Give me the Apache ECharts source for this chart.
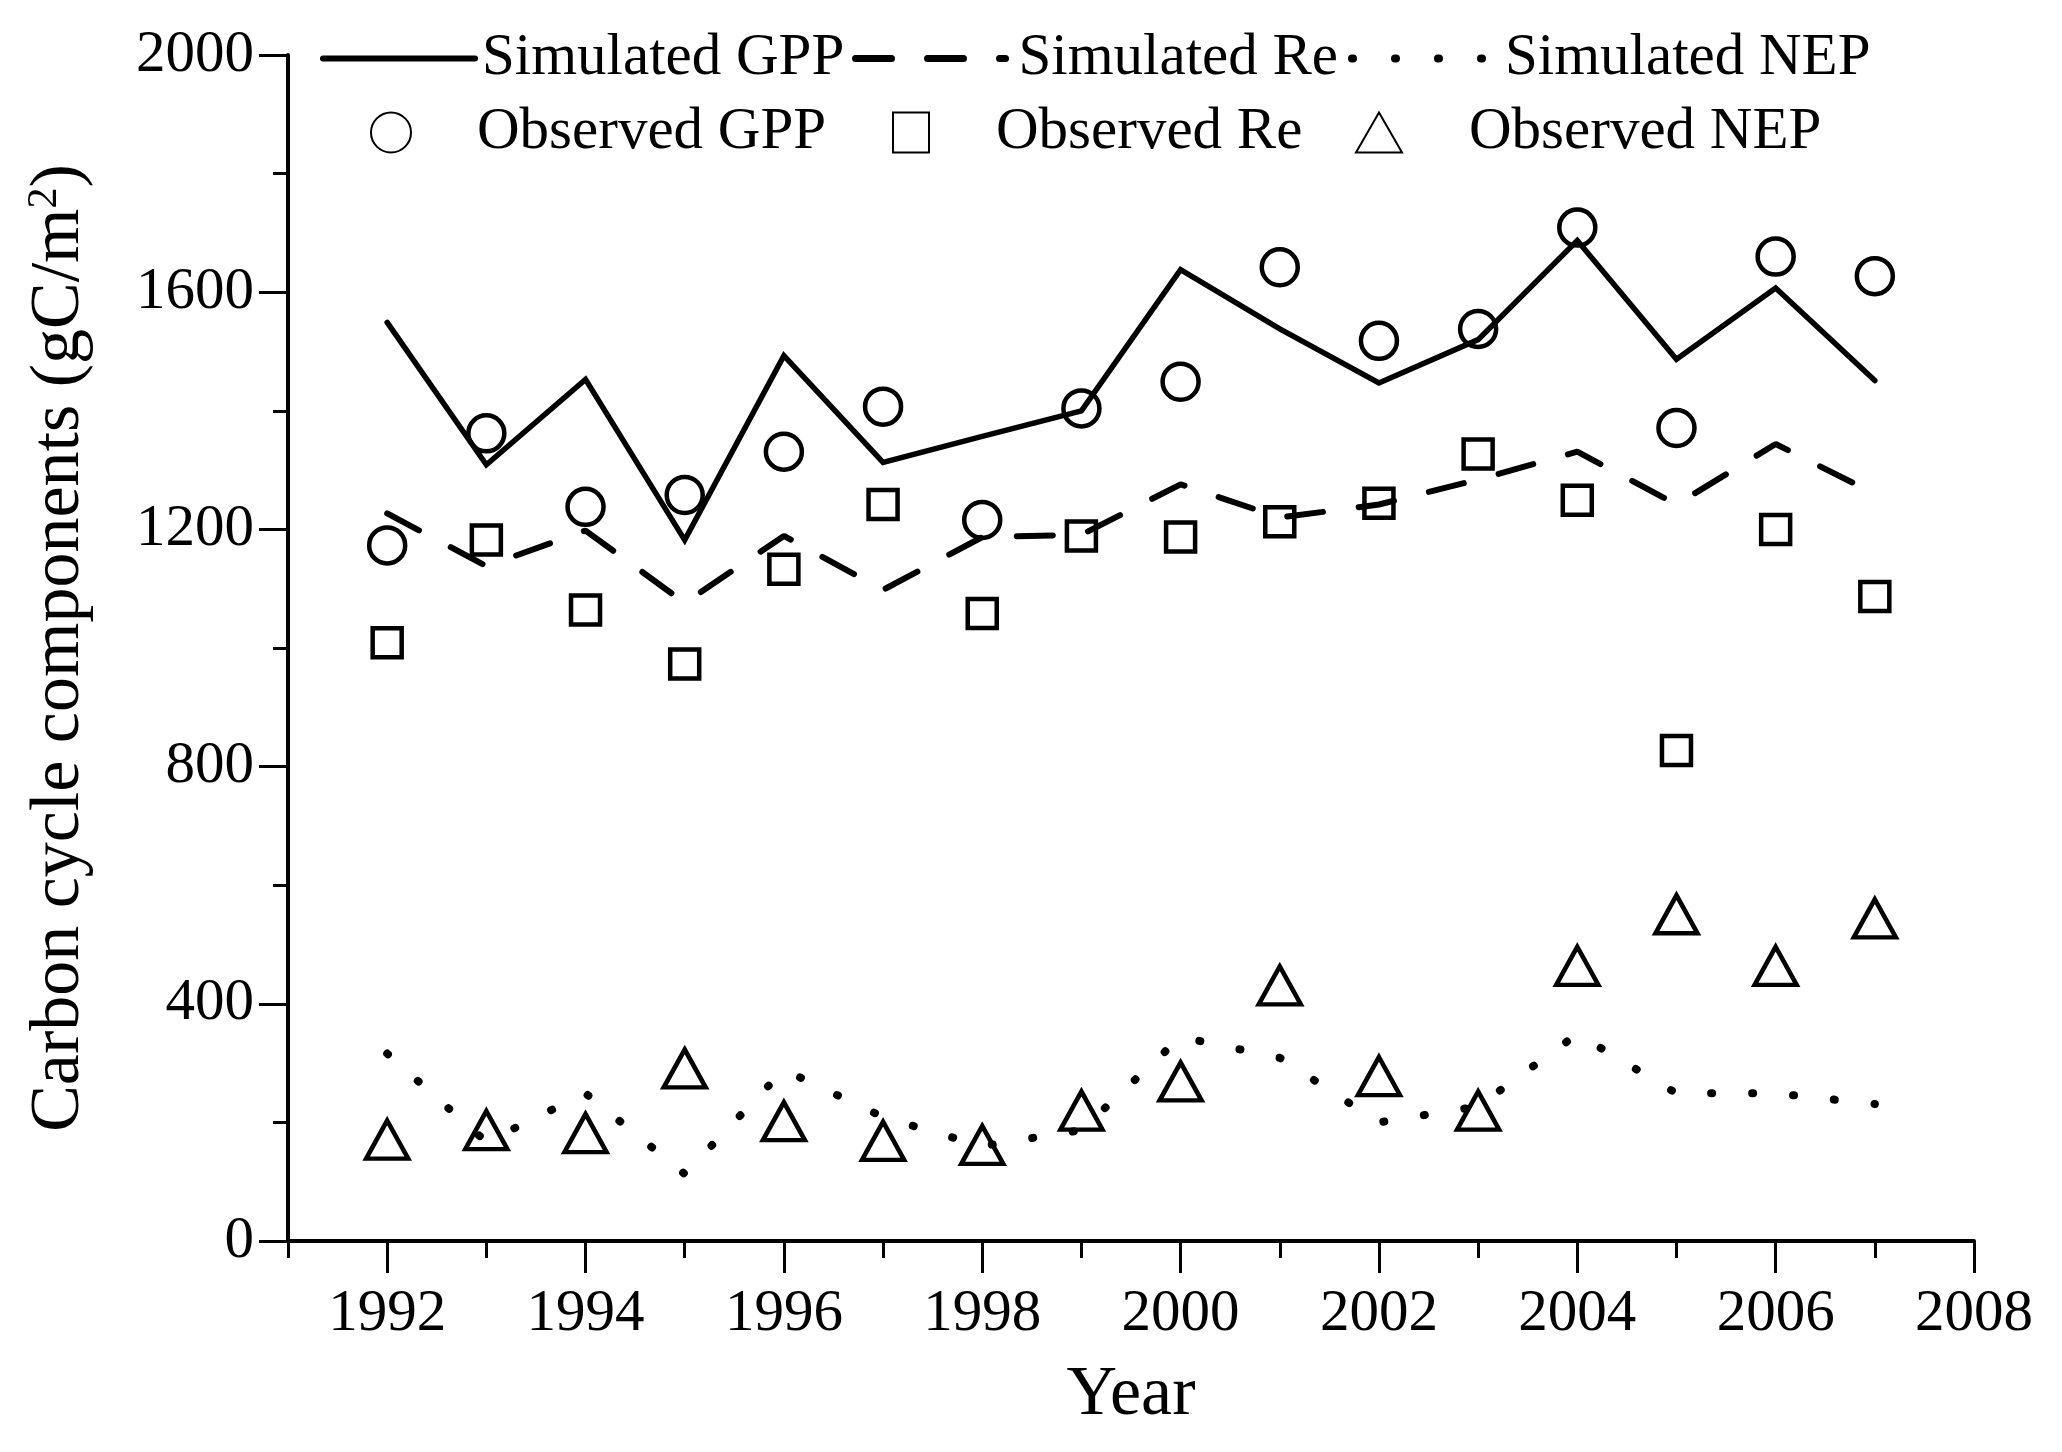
<!DOCTYPE html>
<html>
<head>
<meta charset="utf-8">
<script src="https://cdn.jsdelivr.net/npm/echarts@6/dist/echarts.min.js"></script>
<style>html,body{margin:0;padding:0;background:#fff;}#c{width:2062px;height:1452px;}</style>
</head>
<body>
<div id="c"></div>
<script>
var years = [1992,1993,1994,1995,1996,1997,1998,1999,2000,2001,2002,2003,2004,2005,2006,2007];
var simGPP = [1549,1309,1453,1182,1493,1313,1357,1400,1638,1538,1447,1520,1687,1487,1607,1451];
var obsGPP = [1173,1362,1238,1258,1331,1407,1216,1404,1449,1642,1518,1538,1709,1371,1660,1627];
var simRe  = [1227,1138,1198,1076,1189,1098,1187,1191,1276,1220,1242,1284,1331,1242,1344,1260];
var obsRe  = [1009,1182,1064,973,1133,1242,1058,1189,1187,1213,1244,1327,1249,827,1200,1087];
var simNEP = [316,167,249,113,289,209,160,187,344,309,200,227,349,249,249,231];
var obsNEP = [171,187,182,291,202,169,162,220,269,431,278,220,464,551,464,544];
var xLabelYears = [1992,1994,1996,1998,2000,2002,2004,2006,2008];

function pairs(v){ return years.map(function(y,i){ return [y, v[i]]; }); }

var FONT = 'Liberation Serif';
var chart = echarts.init(document.getElementById('c'), null, {renderer:'canvas'});

function lg(name, left, top, w, h, padLeft, lineStyle){
  var o = {
    data: [name], left: left, top: top, itemWidth: w, itemHeight: h, itemGap: 0,
    textStyle: {fontFamily: FONT, fontSize: 59, color: '#000', padding:[0,0,0,padLeft]},
    inactiveColor: '#000', selectedMode: false
  };
  if (lineStyle) { o.lineStyle = lineStyle; o.itemStyle = {opacity: 0}; }
  return o;
}

var mk = {color: 'rgba(255,255,255,0)', borderColor: '#000', borderWidth: 4.5, opacity: 1};

var option = {
  animation: false,
  backgroundColor: '#fff',
  grid: {left: 288, right: 88, top: 55, bottom: 211, containLabel: false},
  legend: [
    lg('Simulated GPP', 315, 24, 152, 40, 2, {color:'#000', width: 6, type:'solid', cap:'round'}),
    lg('Simulated Re', 847, 24, 150, 40, 8, {color:'#000', width: 7, type:[36, 36], cap:'round'}),
    lg('Simulated NEP', 1343, 24, 142, 40, 6, {color:'#000', width: 8, type:[1, 42], cap:'round'}),
    lg('Observed GPP', 365, 98, 42, 40, 60),
    lg('Observed Re', 887, 98, 36, 40, 62),
    lg('Observed NEP', 1350, 98, 46, 40, 62)
  ],
  xAxis: [
    {
      type: 'value', position: 'bottom', min: 1991, max: 2008, interval: 1,
      axisLine: {show: true, onZero: false, lineStyle: {color:'#000', width: 4}},
      axisTick: {show: true, length: 17, lineStyle: {color:'#000', width: 3}},
      axisLabel: {show: false},
      splitLine: {show: false},
      name: 'Year', nameLocation: 'middle', nameGap: 120,
      nameTextStyle: {fontFamily: FONT, fontSize: 70, color: '#000'}
    },
    {
      type: 'value', position: 'bottom', min: 1991, max: 2008, interval: 1,
      axisLine: {show: false, onZero: false},
      axisTick: {show: true, length: 32, customValues: xLabelYears, lineStyle: {color:'#000', width: 3}},
      axisLabel: {show: true, margin: 44, customValues: xLabelYears, fontFamily: FONT, fontSize: 59, color: '#000',
        formatter: function(v){ return String(v); }},
      splitLine: {show: false}
    }
  ],
  yAxis: [
    {
      type: 'value', position: 'left', min: 0, max: 2000, interval: 200,
      axisLine: {show: true, onZero: false, lineStyle: {color:'#000', width: 4}},
      axisTick: {show: true, length: 15, lineStyle: {color:'#000', width: 3}},
      axisLabel: {show: false},
      splitLine: {show: false},
      name: 'Carbon cycle components (gC/m{sup|2})', nameLocation: 'middle', nameGap: 192, nameRotate: 90,
      nameTextStyle: {fontFamily: FONT, fontSize: 70, color: '#000',
        rich: {sup: {fontFamily: FONT, fontSize: 42, color:'#000', verticalAlign: 'top', padding:[0,0,30,0]}}}
    },
    {
      type: 'value', position: 'left', min: 0, max: 2000, interval: 400,
      axisLine: {show: false, onZero: false},
      axisTick: {show: true, length: 29, lineStyle: {color:'#000', width: 3}},
      axisLabel: {show: true, margin: 34, fontFamily: FONT, fontSize: 59, color: '#000',
        formatter: function(v){ return String(v); }},
      splitLine: {show: false}
    }
  ],
  series: [
    {name: 'Simulated GPP', type: 'line', data: pairs(simGPP), symbol: 'none',
      lineStyle: {color:'#000', width: 5.5, type: 'solid', cap: 'round', join: 'miter'}, itemStyle:{color:'#000'}, z: 3},
    {name: 'Simulated Re', type: 'line', data: pairs(simRe), symbol: 'none',
      lineStyle: {color:'#000', width: 6, type: [36, 36], cap: 'round'}, itemStyle:{color:'#000'}, z: 3},
    {name: 'Simulated NEP', type: 'line', data: pairs(simNEP), symbol: 'none',
      lineStyle: {color:'#000', width: 8, type: [1, 40], cap: 'round'}, itemStyle:{color:'#000'}, z: 3},
    {name: 'Observed GPP', type: 'scatter', data: pairs(obsGPP), symbol: 'circle', symbolSize: 36,
      itemStyle: mk, z: 4},
    {name: 'Observed Re', type: 'scatter', data: pairs(obsRe), symbol: 'rect', symbolSize: 29,
      itemStyle: mk, z: 4},
    {name: 'Observed NEP', type: 'scatter', data: pairs(obsNEP), symbol: 'triangle', symbolSize: [42, 38],
      itemStyle: mk, z: 4}
  ]
};
chart.setOption(option);
</script>
</body>
</html>
